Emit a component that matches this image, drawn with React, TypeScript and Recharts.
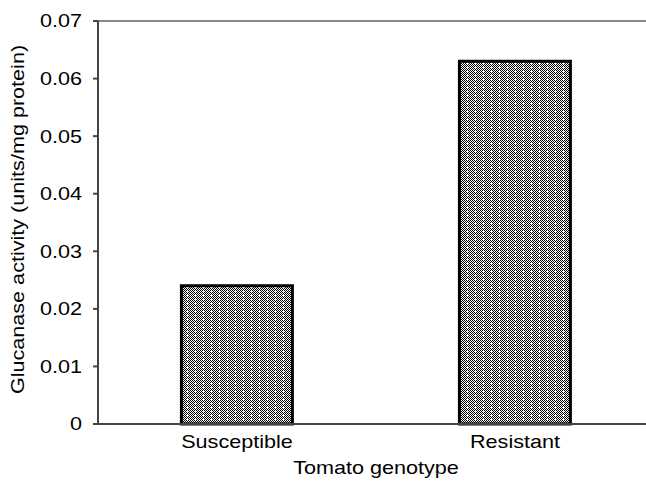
import React from 'react';
import { BarChart, Bar, XAxis, YAxis, ReferenceLine } from 'recharts';

const categories = ['Susceptible', 'Resistant'];
const glucanase = [0.024, 0.063];
const positions = [0.5, 1.5];
const yTicks = [0, 0.01, 0.02, 0.03, 0.04, 0.05, 0.06, 0.07];
const edgeTicks = [0, 1, 2];

const data = categories.map((c, i) => ({ name: c, value: glucanase[i], pos: positions[i] }));

const FONT = 'Liberation Sans, Arial, sans-serif';
const FS = 18;
const STRETCH = 1.2;

const YLabel = (props: any) => {
  const vb = props.viewBox || {};
  const cx = vb.x + 24;
  const cy = vb.y + vb.height / 2 - 3;
  return (
    <g transform={`translate(${cx} ${cy}) rotate(-90) scale(${STRETCH} 1)`}>
      <text x={0} y={0} textAnchor="middle" fontSize={FS} fontFamily={FONT} fill="#000">
        Glucanase activity (units/mg protein)
      </text>
    </g>
  );
};

const XLabel = (props: any) => {
  const vb = props.viewBox || {};
  const cx = vb.x + vb.width / 2;
  const cy = vb.y + vb.height - 9;
  return (
    <g transform={`translate(${cx} ${cy}) scale(${STRETCH} 1)`}>
      <text x={0} y={0} textAnchor="middle" fontSize={FS} fontFamily={FONT} fill="#000">
        Tomato genotype
      </text>
    </g>
  );
};

const CatTick = (props: any) => {
  const { x, y, payload } = props;
  return (
    <g transform={`translate(${x} ${y}) scale(${STRETCH} 1)`}>
      <text x={0} y={0} dy="0.71em" textAnchor="middle" fontSize={FS} fontFamily={FONT} fill="#000">
        {payload.value}
      </text>
    </g>
  );
};

const ValTick = (props: any) => {
  const { x, y, payload } = props;
  const v = payload.value as number;
  return (
    <g transform={`translate(${x} ${y}) scale(${STRETCH} 1)`}>
      <text x={0} y={0} dy="0.355em" textAnchor="end" fontSize={FS} fontFamily={FONT} fill="#000">
        {v === 0 ? '0' : v.toFixed(2)}
      </text>
    </g>
  );
};

export default function App() {
  return (
    <div style={{ position: 'absolute', left: 0, top: 0, width: 646, height: 483, overflow: 'hidden', background: '#fff' }}>
      <BarChart width={656} height={483} data={data} margin={{ top: 21, right: 2, bottom: 0, left: 0 }} barCategoryGap="30%">
        <defs>
          <pattern id="dots" width="8" height="8" patternUnits="userSpaceOnUse">
            <rect width="8" height="8" fill="#fff" />
            <rect x="0" y="0" width="1" height="1" fill="#000" />
            <rect x="2" y="0" width="1" height="1" fill="#000" />
            <rect x="4" y="0" width="1" height="1" fill="#000" />
            <rect x="6" y="0" width="1" height="1" fill="#000" />
            <rect x="1" y="1" width="1" height="1" fill="#000" />
            <rect x="3" y="1" width="1" height="1" fill="#000" />
            <rect x="5" y="1" width="1" height="1" fill="#000" />
            <rect x="7" y="1" width="1" height="1" fill="#000" />
            <rect x="0" y="2" width="1" height="1" fill="#000" />
            <rect x="2" y="2" width="1" height="1" fill="#000" />
            <rect x="4" y="2" width="1" height="1" fill="#000" />
            <rect x="6" y="2" width="1" height="1" fill="#000" />
            <rect x="1" y="3" width="1" height="1" fill="#000" />
            <rect x="5" y="3" width="1" height="1" fill="#000" />
            <rect x="7" y="3" width="1" height="1" fill="#000" />
            <rect x="0" y="4" width="1" height="1" fill="#000" />
            <rect x="2" y="4" width="1" height="1" fill="#000" />
            <rect x="4" y="4" width="1" height="1" fill="#000" />
            <rect x="6" y="4" width="1" height="1" fill="#000" />
            <rect x="1" y="5" width="1" height="1" fill="#000" />
            <rect x="3" y="5" width="1" height="1" fill="#000" />
            <rect x="5" y="5" width="1" height="1" fill="#000" />
            <rect x="7" y="5" width="1" height="1" fill="#000" />
            <rect x="0" y="6" width="1" height="1" fill="#000" />
            <rect x="2" y="6" width="1" height="1" fill="#000" />
            <rect x="4" y="6" width="1" height="1" fill="#000" />
            <rect x="6" y="6" width="1" height="1" fill="#000" />
            <rect x="1" y="7" width="1" height="1" fill="#000" />
            <rect x="5" y="7" width="1" height="1" fill="#000" />
            <rect x="7" y="7" width="1" height="1" fill="#000" />
          </pattern>
        </defs>
        <XAxis
          xAxisId="edge"
          dataKey="pos"
          type="number"
          domain={[0, 2]}
          ticks={edgeTicks}
          tick={false}
          height={0}
          tickSize={5}
          axisLine={false}
          tickLine={{ stroke: '#444', strokeWidth: 2 }}
        />
        <XAxis
          xAxisId="cat"
          dataKey="name"
          height={59}
          tickSize={0}
          tickMargin={11}
          tickLine={false}
          axisLine={{ stroke: '#444', strokeWidth: 2 }}
          tick={<CatTick />}
          label={<XLabel />}
        />
        <YAxis
          domain={[0, 0.07]}
          ticks={yTicks}
          width={98}
          tickSize={5}
          tickMargin={11}
          interval={0}
          axisLine={{ stroke: '#444', strokeWidth: 2 }}
          tickLine={{ stroke: '#444', strokeWidth: 2 }}
          tick={<ValTick />}
          label={<YLabel />}
        />
        <ReferenceLine y={0.07} xAxisId="cat" stroke="#888" strokeWidth={2} />
        <Bar dataKey="value" xAxisId="cat" fill="url(#dots)" stroke="#000" strokeWidth={3} isAnimationActive={false} />
      </BarChart>
    </div>
  );
}
